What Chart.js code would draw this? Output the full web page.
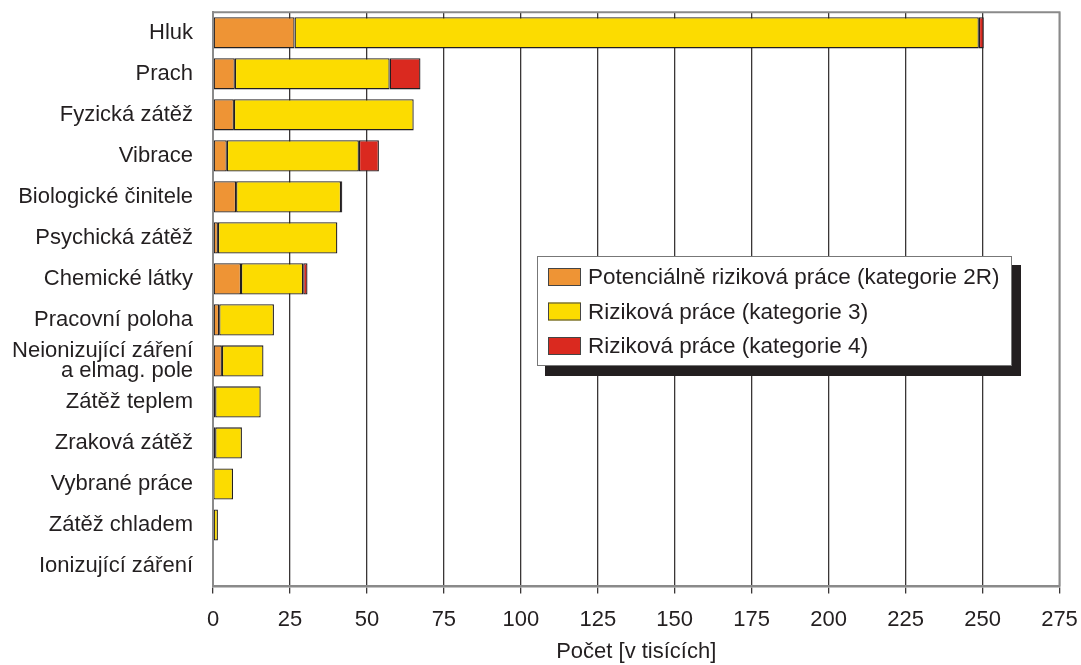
<!DOCTYPE html>
<html>
<head>
<meta charset="utf-8">
<script src="https://cdn.jsdelivr.net/npm/chart.js@4"></script>
<style>
  html, body { margin: 0; padding: 0; background: #fff; }
</style>
</head>
<body>
<canvas id="chart" width="1081" height="665"></canvas>
<script>
const categories = [
  "Hluk", "Prach", "Fyzická zátěž", "Vibrace", "Biologické činitele",
  "Psychická zátěž", "Chemické látky", "Pracovní poloha",
  ["Neionizující záření", "a elmag. pole"], "Zátěž teplem", "Zraková zátěž",
  "Vybrané práce", "Zátěž chladem", "Ionizující záření"
];
const kat2R = [26.5, 7.1, 6.8, 4.5, 7.5, 1.6, 9.1, 2.0, 2.9, 0.7, 0.7, 0.1, 0, 0];
const kat3  = [222.3, 50.3, 58.4, 42.9, 34.1, 38.8, 20.2, 17.8, 13.5, 14.8, 8.7, 6.4, 1.6, 0];
const kat4  = [1.6, 10.0, 0, 6.5, 0.4, 0, 1.4, 0, 0, 0, 0, 0, 0, 0];
const seriesNames = [
  "Potenciálně riziková práce (kategorie 2R)",
  "Riziková práce (kategorie 3)",
  "Riziková práce (kategorie 4)"
];
const xMax = 275;
const xStep = 25;

const FONT = "'Liberation Sans', Arial, sans-serif";

// legend box with drop shadow + frame around plot
const decor = {
  id: "decor",
  afterDatasetsDraw(chart) {
    const ctx = chart.ctx;
    const a = chart.chartArea;
    ctx.save();
    ctx.strokeStyle = "#8a8a8a";
    ctx.lineWidth = 2;
    ctx.beginPath();
    ctx.moveTo(a.left, a.bottom);
    ctx.lineTo(a.left, a.top);
    ctx.lineTo(a.right, a.top);
    ctx.lineTo(a.right, a.bottom);
    ctx.stroke();

    const x = 537, y = 256, w = 474, h = 109;
    ctx.fillStyle = "#231f20";
    ctx.fillRect(x + 8, y + 9, w + 2, h + 2);
    ctx.fillStyle = "#fff";
    ctx.fillRect(x, y, w, h);
    ctx.strokeStyle = "#777";
    ctx.lineWidth = 1;
    ctx.strokeRect(x + 0.5, y + 0.5, w, h);
    ctx.font = "22.5px " + FONT;
    ctx.textBaseline = "middle";
    chart.data.datasets.forEach((ds, i) => {
      const cy = y + 21 + i * 34.5;
      ctx.fillStyle = ds.backgroundColor;
      ctx.fillRect(x + 11, cy - 9, 33, 18);
      ctx.strokeStyle = "#444";
      ctx.strokeRect(x + 11.5, cy - 8.5, 32, 17);
      ctx.fillStyle = "#231f20";
      ctx.fillText(ds.label, x + 51, cy + 1);
    });
    ctx.restore();
  }
};

new Chart(document.getElementById("chart"), {
  type: "bar",
  data: {
    labels: categories,
    datasets: [
      { label: seriesNames[0], data: kat2R, backgroundColor: "#ee9435" },
      { label: seriesNames[1], data: kat3, backgroundColor: "#fcdc00" },
      { label: seriesNames[2], data: kat4, backgroundColor: "#da291f" }
    ].map(d => Object.assign(d, {
      borderColor: "#231f20",
      borderWidth: 1.3,
      borderSkipped: false,
      categoryPercentage: 1,
      barPercentage: 0.76
    }))
  },
  options: {
    indexAxis: "y",
    responsive: false,
    animation: false,
    devicePixelRatio: 1,
    layout: { padding: { top: 12.3, right: 21.5, left: 0, bottom: 0 } },
    plugins: { legend: { display: false }, tooltip: { enabled: false } },
    scales: {
      x: {
        stacked: true,
        min: 0,
        max: xMax,
        afterFit: s => { s.height = 78.5; s.paddingLeft = 0; s.paddingRight = 0; },
        grid: {
          color: ctx => (ctx.tick && (ctx.tick.value === 0 || ctx.tick.value === xMax)) ? "#8a8a8a" : "#3a3636",
          lineWidth: 1.3,
          tickLength: 7,
          tickColor: "#3a3636"
        },
        border: { color: "#8a8a8a", width: 2.5 },
        ticks: {
          stepSize: xStep,
          autoSkip: false,
          maxRotation: 0,
          color: "#231f20",
          font: { family: FONT, size: 22 },
          padding: 13
        },
        title: {
          display: true,
          text: "Počet [v tisících]",
          color: "#231f20",
          font: { family: FONT, size: 22 },
          padding: { top: 6, bottom: 0 }
        }
      },
      y: {
        stacked: true,
        afterFit: s => { s.width = 213; s.paddingTop = 0; s.paddingBottom = 0; },
        grid: { display: false },
        border: { color: "#8a8a8a", width: 2 },
        ticks: { autoSkip: false, color: "#231f20", font: { family: FONT, size: 22, lineHeight: 0.92 }, padding: 12 }
      }
    }
  },
  plugins: [decor]
});
</script>
</body>
</html>
